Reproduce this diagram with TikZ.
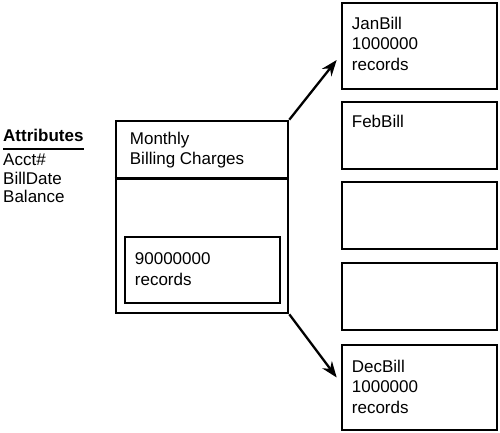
\documentclass[tikz,border=0pt]{standalone}
\usepackage{fontspec}
\setmainfont{Liberation Sans}
\usetikzlibrary{arrows.meta}

\begin{document}
\begin{tikzpicture}[x=1pt,y=-1pt]
  \tikzset{box/.style={draw,line width=2.6pt,minimum width=155pt},
    txt/.style={anchor=north west,inner sep=0pt,align=left,font=\fontsize{17}{20.5}\selectfont},
    link/.style={line width=2.3pt,-{Stealth[length=16pt,width=12pt]}}}
  \useasboundingbox (0,0) rectangle (500,432);
  % attribute list
  \node[anchor=base west,inner sep=0pt,font=\fontsize{17}{20}\selectfont\bfseries] (attr) at (3,141) {Attributes};
  \draw[line width=2.8pt] ([yshift=-8pt]attr.base west) -- ([yshift=-8pt]attr.base east);
  \node[txt,font=\fontsize{17}{18.5}\selectfont] (fields) at (3,154) {Acct\#\\BillDate\\Balance};
  % the big table
  \node[box,minimum width=172pt,minimum height=192pt] (mbc) at (202,217) {};
  \draw[line width=2.6pt] ([yshift=-59pt]mbc.north west) -- ([yshift=-59pt]mbc.north east);
  \node[txt] (mbctxt) at ([shift={(15pt,-12pt)}]mbc.north west) {Monthly\\Billing Charges};
  \node[box,minimum height=66pt] (rec) at (202.5,270) {};
  \node[txt] (rectxt) at ([shift={(11pt,-17pt)}]rec.north west) {90000000\\records};
  % monthly partitions
  \node[box,minimum height=86pt] (jan) at (419.5,46) {};
  \node[txt] (jantxt) at ([shift={(11pt,-15pt)}]jan.north west) {JanBill\\1000000\\records};
  \node[box,minimum height=67pt] (feb) at (419.5,135.5) {};
  \node[txt] (febtxt) at ([shift={(11pt,-14pt)}]feb.north west) {FebBill};
  \node[box,minimum height=67pt] (mar) at (419.5,215.5) {};
  \node[box,minimum height=67pt] (apr) at (419.5,296.5) {};
  \node[box,minimum height=85pt] (dec) at (419.5,387.5) {};
  \node[txt] (dectxt) at ([shift={(11pt,-16pt)}]dec.north west) {DecBill\\1000000\\records};
  \draw[link] (mbc.north east) -- ([shift={(-4pt,-14pt)}]jan.west);
  \draw[link] (mbc.south east) -- ([shift={(-4pt,10pt)}]dec.west);
\end{tikzpicture}
\end{document}
